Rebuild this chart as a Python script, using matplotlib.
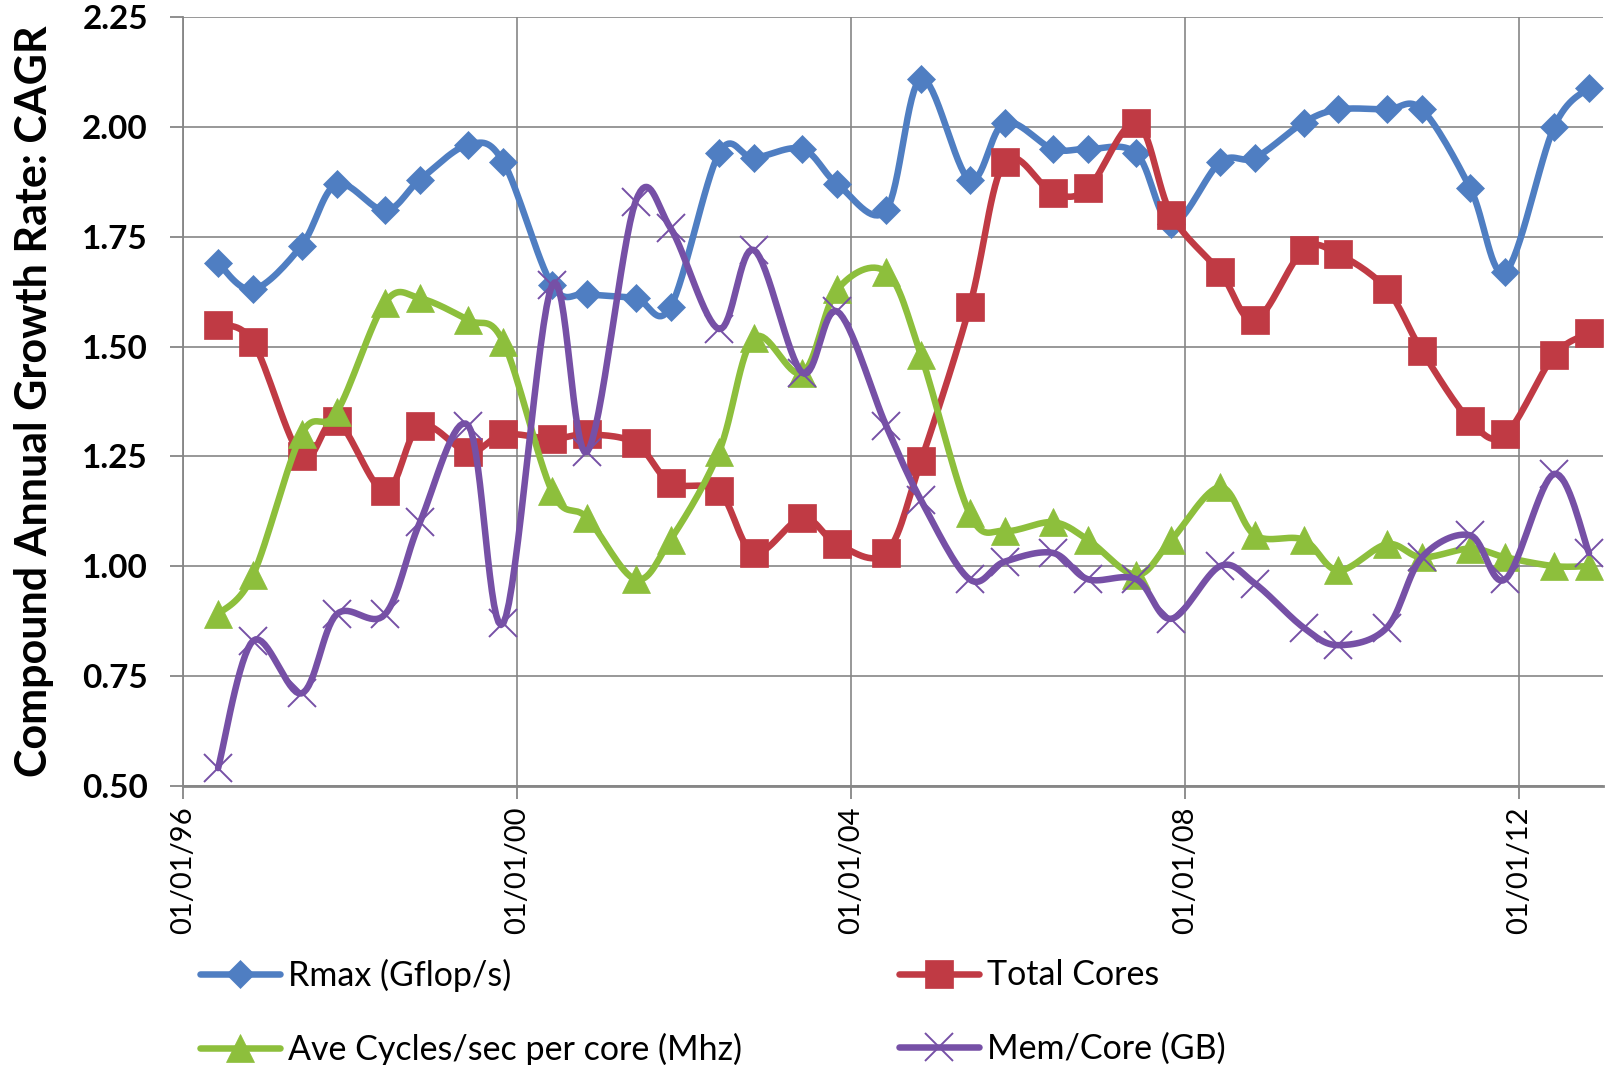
import numpy as np
import matplotlib
matplotlib.use('Agg')
import matplotlib.pyplot as plt
import matplotlib.dates as mdates
from matplotlib.ticker import MultipleLocator, FormatStrFormatter
from datetime import date

# 字体
plt.rcParams['font.family'] = ['Lato', 'DejaVu Sans']

# TOP500 lists: June and November of each year
dates = [date(y, m, 1) for y in range(1996, 2013) for m in (6, 11)]

rmax = [1.69, 1.63, 1.73, 1.87, 1.81, 1.88, 1.96, 1.92, 1.64, 1.62,
        1.61, 1.59, 1.94, 1.93, 1.95, 1.87, 1.81, 2.11, 1.88, 2.01,
        1.95, 1.95, 1.94, 1.78, 1.92, 1.93, 2.01, 2.04, 2.04, 2.04,
        1.86, 1.67, 2.00, 2.09]
cores = [1.55, 1.51, 1.25, 1.33, 1.17, 1.32, 1.26, 1.30, 1.29, 1.30,
         1.28, 1.19, 1.17, 1.03, 1.11, 1.05, 1.03, 1.24, 1.59, 1.92,
         1.85, 1.86, 2.01, 1.80, 1.67, 1.56, 1.72, 1.71, 1.63, 1.49,
         1.33, 1.30, 1.48, 1.53]
cycles = [0.89, 0.98, 1.30, 1.35, 1.60, 1.61, 1.56, 1.51, 1.17, 1.11,
          0.97, 1.06, 1.26, 1.52, 1.44, 1.63, 1.67, 1.48, 1.12, 1.08,
          1.10, 1.06, 0.98, 1.06, 1.18, 1.07, 1.06, 0.99, 1.05, 1.02,
          1.04, 1.02, 1.00, 1.00]
mem = [0.54, 0.83, 0.71, 0.89, 0.89, 1.10, 1.32, 0.87, 1.64, 1.26,
       1.83, 1.77, 1.54, 1.72, 1.44, 1.58, 1.32, 1.15, 0.97, 1.01,
       1.03, 0.97, 0.97, 0.88, 1.00, 0.96, 0.86, 0.82, 0.86, 1.02,
       1.07, 0.97, 1.21, 1.03]

series = [
    ('Rmax (Gflop/s)', rmax, '#4F7EC2', 'D', 14.5),
    ('Total Cores', cores, '#C03A44', 's', 19.5),
    ('Ave Cycles/sec per core (Mhz)', cycles, '#8DBF3C', '^', 20.5),
    ('Mem/Core (GB)', mem, '#7650A6', 'x', 19.5),
]

N = 16  # points per segment


def smooth(x, y):
    # Excel-style smoothed line (Catmull-Rom as Bezier)
    p = np.column_stack([x, y])
    out = [p[:1]]
    t = np.linspace(0, 1, N + 1)[1:, None]
    for i in range(len(p) - 1):
        p0 = p[max(i - 1, 0)]
        p1, p2 = p[i], p[i + 1]
        p3 = p[min(i + 2, len(p) - 1)]
        c1 = p1 + (p2 - p0) / 6
        c2 = p2 - (p3 - p1) / 6
        seg = (1 - t) ** 3 * p1 + 3 * (1 - t) ** 2 * t * c1 + 3 * (1 - t) * t ** 2 * c2 + t ** 3 * p2
        out.append(seg)
    out = np.vstack(out)
    return out[:, 0], out[:, 1]


fig = plt.figure(figsize=(16.07, 10.65), dpi=100)
ax = fig.add_axes([0.1141, 0.2623, 0.8834, 0.7215])

xnum = mdates.date2num(dates)
handles = []
for i, (label, vals, color, mk, ms) in enumerate(series):
    xs, ys = smooth(xnum, vals)
    marks = list(range(0, len(xs), N))
    if mk == 'x':
        mew = 1.4
    else:
        mew = 0.5
    h, = ax.plot(xs, ys, color=color, lw=4.7, marker=mk, ms=ms, mew=mew,
                 mec=color, mfc=color, markevery=marks, label=label,
                 zorder=3 + i, solid_capstyle='round')
    handles.append(h)

ax.set_xlim(mdates.date2num(date(1996, 1, 1)), mdates.date2num(date(2013, 1, 1)))
ax.set_ylim(0.5, 2.25)
ax.xaxis.set_major_locator(mdates.YearLocator(4))
ax.xaxis.set_major_formatter(mdates.DateFormatter('%m/%d/%y'))
ax.yaxis.set_major_locator(MultipleLocator(0.25))
ax.yaxis.set_major_formatter(FormatStrFormatter('%.2f'))

grid_c = '#868686'
ax.grid(True, color=grid_c, lw=1.2, zorder=0)
ax.set_axisbelow(True)
for s in ['top', 'right']:
    ax.spines[s].set_visible(False)
ax.spines['left'].set_color(grid_c)
ax.spines['left'].set_linewidth(1.3)
ax.spines['bottom'].set_color(grid_c)
ax.spines['bottom'].set_linewidth(2.0)

ax.tick_params(axis='y', direction='out', length=9.5, width=1.3, color=grid_c,
               pad=16, labelsize=24)
ax.tick_params(axis='x', direction='out', length=9, width=1.3, color=grid_c,
               pad=6, labelsize=21, labelrotation=90)
for lbl in ax.get_yticklabels():
    lbl.set_fontweight('bold')

ax.set_ylabel('Compound Annual Growth Rate: CAGR', fontsize=31, fontweight='bold', va='center')
ax.yaxis.set_label_coords(-0.1055, 0.5)

# 图例：两列
for col, x0 in [(0, 200), (1, 899)]:
    hs = [handles[col], handles[col + 2]]
    fig.legend(hs, [h.get_label() for h in hs], loc='center left',
               bbox_to_anchor=(x0 / 1607, 1 - 1012 / 1065), frameon=False,
               fontsize=24.5, handlelength=2.35, handletextpad=0.24,
               labelspacing=1.2, borderpad=0, borderaxespad=0, numpoints=1)

fig.savefig('out.png', dpi=100)
